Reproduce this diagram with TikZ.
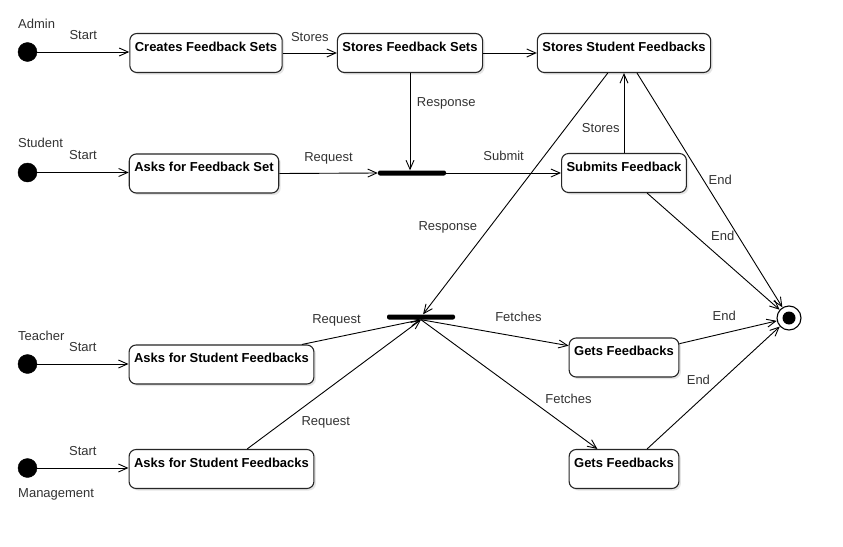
\documentclass[tikz,border=0pt]{standalone}
\usepackage{fontspec}
\setmainfont{Liberation Sans}
\usetikzlibrary{arrows.meta,shadows}
\tikzset{
        state/.style={
            draw=black!85, line width=1.1pt, rounded corners=7pt, fill=white,
            font=\fontsize{13}{15}\selectfont\bfseries,
            inner xsep=5pt, inner ysep=0pt, text height=17.5pt, text depth=21.5pt,
            drop shadow={shadow xshift=2pt, shadow yshift=-2pt, fill=black!10, opacity=1},
        },
        flow/.style={draw=black, line width=0.9pt, -{Straight Barb[length=9pt,width=8pt]}},
    }

\begin{document}
\begin{tikzpicture}[
          x=1pt, y=-1pt,
          dot/.style = {draw,fill,circle,inner sep=0pt,minimum size=19pt},
          bar/.style = {fill,rounded corners=2pt,inner sep=0pt,minimum width=68pt,minimum height=5pt},
          final/.style = {draw,circle,line width=1.1pt,fill=white,inner sep=0pt,minimum size=24pt},
          lbl/.style = {font=\fontsize{13}{15}\selectfont,text=black!80,inner sep=2pt},
          actor/.style = {lbl,anchor=base west}
          ]
 \fill[white] (0,0) rectangle (843,546);
 \useasboundingbox (0,0) rectangle (843,546);
          % start points
          \node[dot] (@admin) at (27.5,52) {};
          \node[actor] (@adminTxt) at (16,28) {Admin};
          \node[dot] (@student) at (27.5,172.5) {};
          \node[actor] (@studentTxt) at (16,147) {Student};
          \node[dot] (@teacher) at (27.5,364) {};
          \node[actor] (@teacherTxt) at (16,340) {Teacher};
          \node[dot] (@mgmt) at (27.5,468) {};
          \node[actor] (@mgmtTxt) at (16,497.5) {Management};
          % states
          \node[state] (@creates) at (206,53) {Creates Feedback Sets};
          \node[state] (@storesSets) at (410,53) {Stores Feedback Sets};
          \node[state] (@storesStud) at (624,53) {Stores Student Feedbacks};
          \node[state] (@asksSet) at (204,173.5) {Asks for Feedback Set};
          \node[state] (@submits) at (624,173) {Submits Feedback};
          \node[state] (@asksT) at (221.5,364.5) {Asks for Student Feedbacks};
          \node[state] (@asksM) at (221.5,469) {Asks for Student Feedbacks};
          \node[state] (@gets1) at (624,357.5) {Gets Feedbacks};
          \node[state] (@gets2) at (624,469) {Gets Feedbacks};
          % fork / join bars and end
          \node[bar] (@fork) at (412,173) {};
          \node[bar] (@join) at (421,317) {};
          \node[final] (@end) at (789,318) {};
          \fill (@end) circle (6.5);
          % admin
          \draw[flow] (@admin) -- (@admin -| @creates.west) node[lbl,midway,above=10pt] (@s1) {Start};
          \draw[flow] (@creates) -- (@storesSets) node[lbl,midway,above=9pt] (@t1) {Stores};
          \draw[flow] (@storesSets) -- (@storesStud);
          \draw[flow] (@storesSets.south) -- (@storesSets.south |- @fork.north) node[lbl,pos=0.31,right=4.5pt] (@t2) {Response};
          % student
          \draw[flow] (@student) -- (@student -| @asksSet.west) node[lbl,midway,above=10pt] (@s2) {Start};
          \draw[flow] (@asksSet.east) -- (@fork.west) node[lbl,midway,above=7pt] (@t3) {Request};
          \draw[flow] (@fork.east) -- (@submits.west) node[lbl,midway,above=10pt] (@t4) {Submit};
          \draw[flow] (@submits) -- (@storesStud) node[lbl,pos=0.31,left=2pt] (@t5) {Stores};
          \draw[flow] (@storesStud.-129) -- (@join) node[lbl,pos=0.64,left=10pt] (@t6) {Response};
          \draw[flow] (@storesStud.-57) -- (@end) node[lbl,pos=0.455,right=3pt] (@t7) {End};
          \draw[flow] (@submits.-41) -- (@end) node[lbl,pos=0.45,above right=2pt] (@t8) {End};
          % teacher and management
          \draw[flow] (@teacher) -- (@teacher -| @asksT.west) node[lbl,midway,above=10pt] (@s3) {Start};
          \draw[flow] (@asksT.14) -- (@join.south) node[lbl,pos=0.29,above=9pt] (@t9) {Request};
          \draw[flow] (@mgmt) -- (@mgmt -| @asksM.west) node[lbl,midway,above=10pt] (@s4) {Start};
          \draw[flow] (@asksM.38) -- (@join.south) node[lbl,pos=0.287,below right=2pt] (@t10) {Request};
          \draw[flow] (@join.south) -- (@gets1.168) node[lbl,pos=0.66,above=13pt] (@t11) {Fetches};
          \draw[flow] (@join.south) -- (@gets2.143) node[lbl,pos=0.68,above right=2pt] (@t12) {Fetches};
          \draw[flow] (@gets1.14) -- (@end) node[lbl,pos=0.46,above=10pt] (@t13) {End};
          \draw[flow] (@gets2.41) -- (@end) node[lbl,pos=0.5,above left=1pt] (@t14) {End};
        \end{tikzpicture}
\end{document}
